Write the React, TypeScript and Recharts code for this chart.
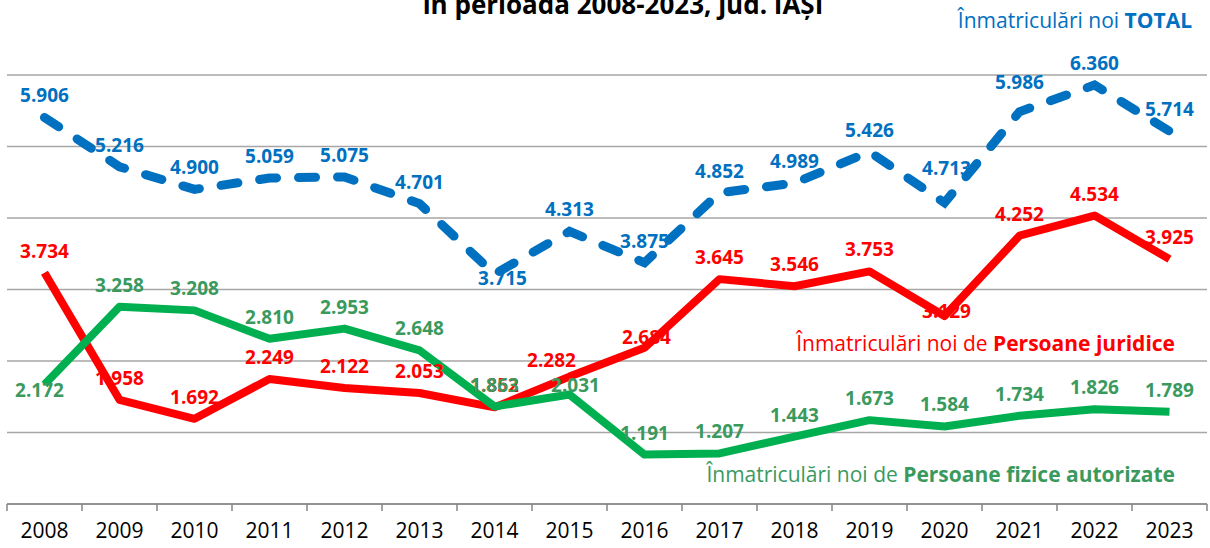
import { LineChart, Line, XAxis, YAxis, CartesianGrid, LabelList } from "recharts";

const years = ["2008", "2009", "2010", "2011", "2012", "2013", "2014", "2015", "2016", "2017", "2018", "2019", "2020", "2021", "2022", "2023"];
const total = [5906, 5216, 4900, 5059, 5075, 4701, 3715, 4313, 3875, 4852, 4989, 5426, 4713, 5986, 6360, 5714];
const juridice = [3734, 1958, 1692, 2249, 2122, 2053, 1852, 2282, 2684, 3645, 3546, 3753, 3129, 4252, 4534, 3925];
const fizice = [2172, 3258, 3208, 2810, 2953, 2648, 1863, 2031, 1191, 1207, 1443, 1673, 1584, 1734, 1826, 1789];
const yTicks = [500, 1500, 2500, 3500, 4500, 5500, 6500];

const data = years.map((year, i) => ({ year, total: total[i], juridice: juridice[i], fizice: fizice[i] }));

const FONT = "'Open Sans', sans-serif";
const BLUE = "#0070C0";
const RED = "#FF0000";
const GREEN = "#00B050";
const GREEN_TEXT = "#3A9A5E";
const HALF = 37.5; // half a category step

// a few labels sit off their default spot in the original
const nudge: Record<string, [number, number]> = {
  "total-6": [8, 26],
  "total-12": [2, -13],
  "total-13": [0, -8],
  "juridice-7": [-18, 5],
  "juridice-8": [2, 11],
  "juridice-12": [2, 17],
  "fizice-0": [-5, 28],
  "fizice-7": [6, 12],
};

const fmt = (v: number) => `${Math.floor(v / 1000)}.${String(v % 1000).padStart(3, "0")}`;

const makeLabel = (key: string, color: string) => (p: any) => {
  const [dx, dy] = nudge[`${key}-${p.index}`] || [0, 0];
  return (
    <text x={p.x + dx} y={p.y - 15 + dy} textAnchor="middle" fill={color} fontSize={19} fontWeight={700} fontFamily={FONT}>
      {fmt(Number(p.value))}
    </text>
  );
};

const YearTick = (p: any) => {
  const last = p.index === years.length - 1;
  return (
    <g>
      <line x1={p.x - HALF} y1={p.y} x2={p.x - HALF} y2={p.y + 7} stroke="#868686" strokeWidth={1.5} />
      {last && <line x1={p.x + HALF} y1={p.y} x2={p.x + HALF} y2={p.y + 7} stroke="#868686" strokeWidth={1.5} />}
      <text x={p.x} y={p.y + 34} textAnchor="middle" fill="#000" fontSize={21} fontFamily={FONT}>
        {p.payload.value}
      </text>
    </g>
  );
};

export default function App() {
  return (
    <div style={{ position: "fixed", left: 0, top: 0, width: 1210, height: 548, background: "#fff", fontFamily: FONT, overflow: "hidden" }}>
      <LineChart width={1210} height={548} data={data} margin={{ top: 75, right: 3, left: 7, bottom: 4 }}>
        <CartesianGrid vertical={false} stroke="#A6A6A6" strokeWidth={1.5} />
        <XAxis
          dataKey="year"
          height={40}
          padding={{ left: HALF, right: HALF }}
          tickLine={false}
          tickSize={0}
          tickMargin={0}
          axisLine={{ stroke: "#868686", strokeWidth: 1.5 }}
          tick={<YearTick />}
          interval={0}
        />
        <YAxis hide domain={[500, 6500]} ticks={yTicks} width={0} />
        <Line dataKey="juridice" stroke={RED} strokeWidth={8} dot={false} isAnimationActive={false} strokeLinejoin="round">
          <LabelList dataKey="juridice" content={makeLabel("juridice", RED)} />
        </Line>
        <Line dataKey="fizice" stroke={GREEN} strokeWidth={8} dot={false} isAnimationActive={false} strokeLinejoin="round">
          <LabelList dataKey="fizice" content={makeLabel("fizice", GREEN_TEXT)} />
        </Line>
        <Line
          dataKey="total"
          stroke={BLUE}
          strokeWidth={9}
          strokeDasharray="17 22"
          strokeLinecap="round"
          dot={false}
          isAnimationActive={false}
        >
          <LabelList dataKey="total" content={makeLabel("total", BLUE)} />
        </Line>
      </LineChart>

      <div style={{ position: "absolute", left: 0, width: 1246, top: -8, textAlign: "center", fontSize: 26, fontWeight: 700, lineHeight: "24px", color: "#000" }}>
        în perioada 2008-2023, jud. IAȘI
      </div>
      <div style={{ position: "absolute", right: 14, top: 6, fontSize: 21, lineHeight: "28px", color: BLUE, background: "#fff", padding: "0 4px" }}>
        Înmatriculări noi <b>TOTAL</b>
      </div>
      <div style={{ position: "absolute", right: 29, top: 328, fontSize: 21, lineHeight: "30px", color: RED, background: "#fff", padding: "0 6px" }}>
        Înmatriculări noi de <b>Persoane juridice</b>
      </div>
      <div style={{ position: "absolute", right: 29, top: 459, fontSize: 21, lineHeight: "30px", color: GREEN_TEXT, background: "#fff", padding: "0 6px" }}>
        Înmatriculări noi de <b>Persoane fizice autorizate</b>
      </div>
    </div>
  );
}
